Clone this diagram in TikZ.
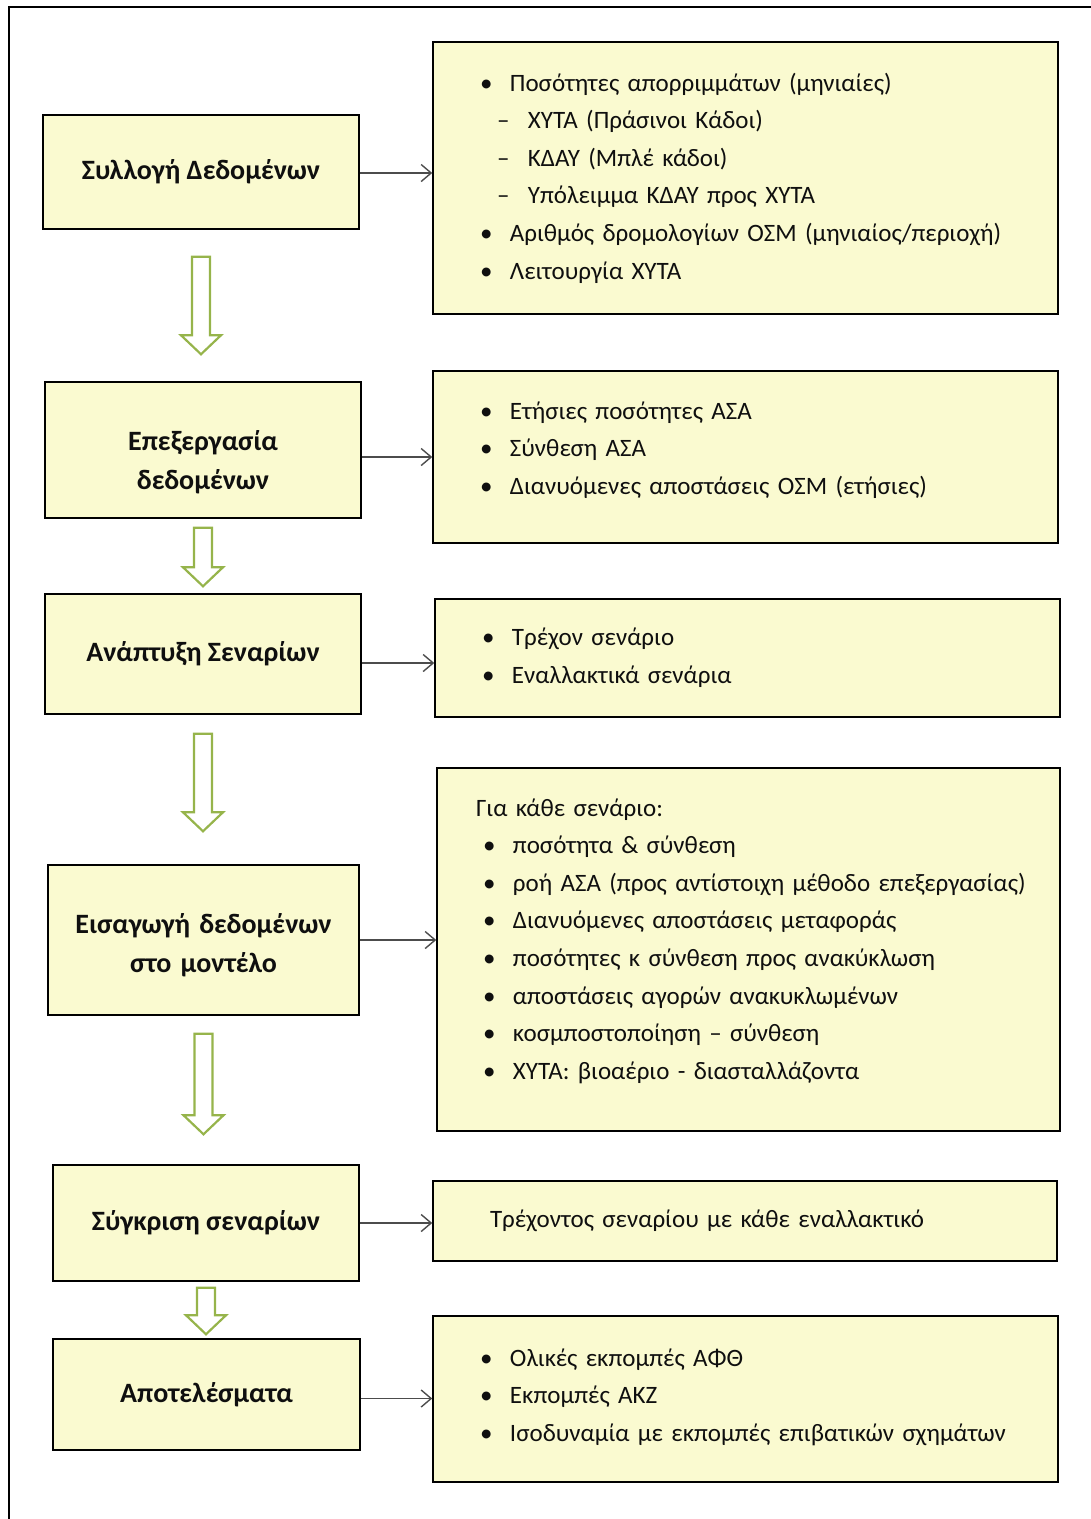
\documentclass[tikz,border=0pt]{standalone}
\usepackage{fontspec}
\setmainfont{Carlito}
\usepackage{tikz}
\usetikzlibrary{arrows.meta,calc}
\definecolor{boxfill}{RGB}{250,250,208}
\definecolor{arrowgreen}{RGB}{150,180,75}
\definecolor{txt}{RGB}{15,15,15}
\newcommand\itm{\hspace*{7pt}\makebox[30pt][l]{\textbullet}}
\newcommand\subitm{\hspace*{24pt}\makebox[31pt][l]{--}}
\newcommand\liftby[1]{\par\kern#1\hrule height0pt}

\begin{document}
\begin{tikzpicture}[x=1pt,y=-1pt,>={Straight Barb[length=10pt,width=17pt]},
    stage/.style={draw,line width=1.5pt,fill=boxfill,text=txt,align=center,
        font=\bfseries\fontsize{28}{39}\selectfont},
    info/.style={draw,line width=1.5pt,fill=boxfill,text=txt,align=left,
        inner xsep=40pt,font=\fontsize{25}{37.6}\selectfont},
    flow/.style={->,line width=1.4pt,draw=black!70},
    blockarrow/.style={draw=arrowgreen,line width=2.2pt,fill=white,line join=miter}]
    \useasboundingbox (0,0) rectangle (1091,1519);
    %Khung
    \draw[line width=1.5pt] (9,1519)--(9,7)--(1091,7);
    %Các bước
    \node[stage,minimum width=316,minimum height=114] (L1) at (201,172) {Συλλογή Δεδομένων};
    \node[stage,minimum width=316,minimum height=136,text width=290] (L2) at (203,450)
        {Επεξεργασία\\δεδομένων\liftby{-24pt}};
    \node[stage,minimum width=316,minimum height=120] (L3) at (203,654) {Ανάπτυξη Σεναρίων};
    \node[stage,minimum width=311,minimum height=150,text width=290] (L4) at (203.5,940)
        {Εισαγωγή δεδομένων\\στο μοντέλο\liftby{-10pt}};
    \node[stage,minimum width=306,minimum height=116] (L5) at (206,1223) {Σύγκριση σεναρίων};
    \node[stage,minimum width=307,minimum height=111] (L6) at (206.5,1394.5) {Αποτελέσματα};
    %Chi tiết
    \node[info,minimum width=625,minimum height=272,text width=545] (R1) at (745.5,178)
        {\itm Ποσότητες απορριμμάτων (μηνιαίες)\\
         \subitm ΧΥΤΑ (Πράσινοι Κάδοι)\\
         \subitm ΚΔΑΥ (Μπλέ κάδοι)\\
         \subitm Υπόλειμμα ΚΔΑΥ προς ΧΥΤΑ\\
         \itm Αριθμός δρομολογίων ΟΣΜ (μηνιαίος/περιοχή)\\
         \itm Λειτουργία ΧΥΤΑ};
    \node[info,minimum width=625,minimum height=172,text width=545] (R2) at (745.5,457)
        {\itm Ετήσιες ποσότητες ΑΣΑ\\
         \itm Σύνθεση ΑΣΑ\\
         \itm Διανυόμενες αποστάσεις ΟΣΜ (ετήσιες)\liftby{14pt}};
    \node[info,minimum width=625,minimum height=118,text width=545] (R3) at (747.5,658)
        {\itm Τρέχον σενάριο\\
         \itm Εναλλακτικά σενάρια};
    \node[info,minimum width=623,minimum height=363,text width=545,inner xsep=36pt] (R4) at (748.5,949.5)
        {Για κάθε σενάριο:\\
         \itm ποσότητα \& σύνθεση\\
         \itm \mbox{ροή ΑΣΑ (προς αντίστοιχη μέθοδο επεξεργασίας)}\\
         \itm Διανυόμενες αποστάσεις μεταφοράς\\
         \itm ποσότητες κ σύνθεση προς ανακύκλωση\\
         \itm αποστάσεις αγορών ανακυκλωμένων\\
         \itm κοσμποστοποίηση – σύνθεση\\
         \itm ΧΥΤΑ: βιοαέριο - διασταλλάζοντα\liftby{17pt}};
    \node[info,minimum width=624,minimum height=80,text width=510,inner xsep=57pt] (R5) at (745,1221)
        {Τρέχοντος σεναρίου με κάθε εναλλακτικό};
    \node[info,minimum width=625,minimum height=166,text width=545] (R6) at (745.5,1399)
        {\itm Ολικές εκπομπές ΑΦΘ\\
         \itm Εκπομπές ΑΚΖ\\
         \itm Ισοδυναμία με εκπομπές επιβατικών σχημάτων\liftby{4pt}};
    %Mũi tên ngang
    \foreach \n/\s in {1/1,2/7,3/9,4/0,5/0,6/4}
        \draw[flow] ($(L\n.east)+(0,\s)$)--($(R\n.west |- L\n.east)+(0,\s)$);
    %Mũi tên xanh
    \foreach \a/\b/\ga/\gb in {L1/L2/27/27,L2/L3/9/7,L3/L4/19/33,L4/L5/18/30,L5/L6/6/4}
        \draw[blockarrow] let \p1=($(\a.south)+(0,\ga)$), \p2=($(\b.north)-(0,\gb)$) in
            (\x1-9pt,\y1)--(\x1+9pt,\y1)--(\x1+9pt,\y2+19pt)--(\x1+20pt,\y2+19pt)
            --(\x1,\y2)--(\x1-20pt,\y2+19pt)--(\x1-9pt,\y2+19pt)--cycle;
\end{tikzpicture}
\end{document}
